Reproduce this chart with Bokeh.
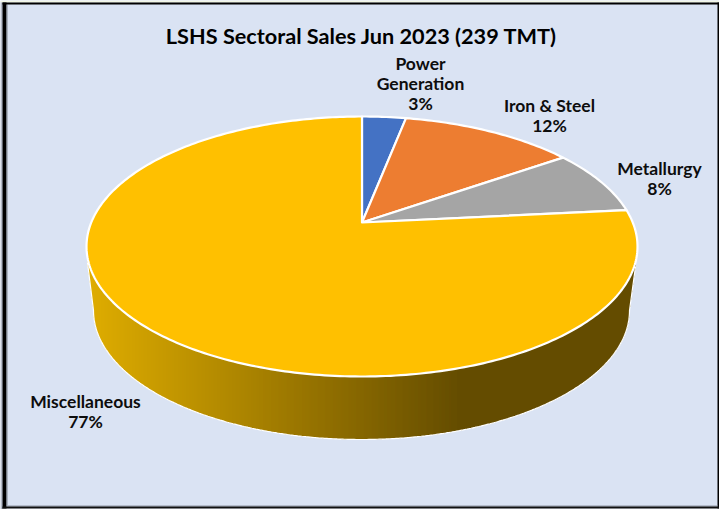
import math
import numpy as np
from bokeh.core.properties import value
from bokeh.embed import file_html
from bokeh.models import Range1d
from bokeh.plotting import figure
from bokeh.resources import INLINE

# Sector shares of the sales total, in percent
sectors = ["Power\nGeneration", "Iron & Steel", "Metallurgy", "Miscellaneous"]
shares = [3, 12, 8, 77]
slice_colors = ["#4472C4", "#ED7D31", "#A5A5A5", "#FFC000"]
chart_title = "LSHS Sectoral Sales Jun 2023 (239 TMT)"

W, H = 719, 509
BG = "#DAE3F3"
FONT = "Lato"

# Tilted disc: rim ellipse and the projected centre of the circle
CX, CY, RX, RY = 361.5, 246.0, 275.5, 130.0
APEX_Y = 222.0
TILT = 0.16
# Rim of the lower face of the disc
BASE_CX, BASE_CY, BASE_RX, BASE_RY = 361.0, 310.0, 268.0, 129.0
TAN_LEFT, TAN_RIGHT = 87.0, 635.0
TAN_LEFT_Y, TAN_RIGHT_Y = 262.0, 266.0


def rim_point(percent):
    """Project a position on the circle (0-100, clockwise from the top) to the page."""
    t = math.radians(percent * 3.6)
    sx, sy = math.sin(t), math.cos(t)
    d = 1 + TILT * sy
    return (CX + RX * sx * math.sqrt(1 - TILT ** 2) / d,
            CY - RY * (sy + TILT) / d)


def lerp_color(c0, c1, f):
    return "#%02x%02x%02x" % tuple(int(round(a + (b - a) * f)) for a, b in zip(c0, c1))


p = figure(width=W, height=H, output_backend="svg", toolbar_location=None,
           x_range=Range1d(0, W), y_range=Range1d(H, 0), min_border=0,
           background_fill_color=BG, border_fill_color=BG, outline_line_color=None)
p.axis.visible = False
p.grid.visible = False

# Frame around the chart area
p.quad(left=[0], right=[W], top=[0], bottom=[2], color="#F1F6E4", line_color=None)
p.quad(left=[0], right=[2], top=[2], bottom=[H], color="#B4BAC8", line_color=None)
p.quad(left=[2], right=[6], top=[2], bottom=[H], color="#000000", line_color=None)
p.quad(left=[6], right=[7], top=[4], bottom=[505], color="#7F8590", line_color=None)
p.quad(left=[2], right=[W], top=[2], bottom=[4], color="#000000", line_color=None)
p.quad(left=[717], right=[W], top=[2], bottom=[H], color="#000000", line_color=None)
p.quad(left=[6], right=[717], top=[505], bottom=[506], color="#8E95A3", line_color=None)
p.quad(left=[2], right=[W], top=[506], bottom=[508], color="#101010", line_color=None)
p.quad(left=[2], right=[W], top=[508], bottom=[H], color="#8C8C8C", line_color=None)


def top_lower(x):
    return CY + RY * np.sqrt(np.clip(1 - ((x - CX) / RX) ** 2, 0, 1))


def base_outline():
    """Lower edge of the wall: left tangent, lower half of the base ellipse, right tangent."""
    a = np.linspace(math.pi, 0, 400)
    xs = BASE_CX + BASE_RX * np.cos(a)
    ys = BASE_CY + BASE_RY * np.sin(a)
    return (np.concatenate([[TAN_LEFT], xs, [TAN_RIGHT]]),
            np.concatenate([[TAN_LEFT_Y], ys, [TAN_RIGHT_Y]]))


edge_x, edge_y = base_outline()

# Side wall: shaded in narrow vertical strips from light gold to dark brown
LIGHT, DARK = (222, 172, 0), (101, 77, 0)
strip_x = np.arange(TAN_LEFT, TAN_RIGHT, 0.5)
strip_colors = [lerp_color(LIGHT, DARK, min(max((x - 90) / 368, 0), 1)) for x in strip_x]
p.quad(left=strip_x, right=strip_x + 1.0, top=top_lower(strip_x + 0.5) - 3,
       bottom=np.interp(strip_x + 0.5, edge_x, edge_y), fill_color=strip_colors, line_color=None)

p.line(edge_x, edge_y, line_color="#FFFFFF", line_width=1.2)

# Top face: one wedge per sector, built from the shares
start = 0.0
for share, color in zip(shares, slice_colors):
    steps = np.linspace(start, start + share, max(int(share * 4), 6))
    rim = [rim_point(v) for v in steps]
    xs = [CX] + [r[0] for r in rim]
    ys = [APEX_Y] + [r[1] for r in rim]
    p.patch(xs, ys, fill_color=color, line_color="#FFFFFF", line_width=2.2,
            line_join="round")
    start += share

# Sector labels, placed beside the rim
label_anchor_x = [420, 549, 659, 85]
label_anchor_y = [62.5, 105, 168, 401]
for name, share, lx, ly in zip(sectors, shares, label_anchor_x, label_anchor_y):
    lines = name.split("\n") + [f"{share}%"]
    p.text([lx] * len(lines), [ly + 20 * i for i in range(len(lines))], text=lines,
           text_font=value(FONT), text_font_style="bold", text_font_size="17.5px",
           text_color="#0D0D0D", text_align="center", text_baseline="middle")

p.text([361], [35], text=[chart_title], text_font=value(FONT), text_font_style="bold",
       text_font_size="21.7px", text_color="#000000", text_align="center",
       text_baseline="middle")

open("out.html", "w").write(file_html(p, INLINE))
